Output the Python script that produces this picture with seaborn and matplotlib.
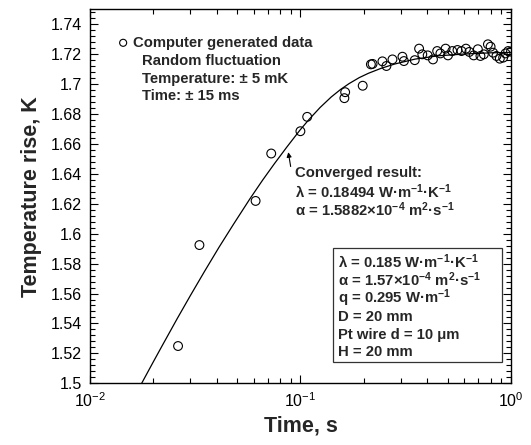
import numpy as np
import pandas as pd
import seaborn as sns
import matplotlib.pyplot as plt
from matplotlib.ticker import MultipleLocator, FormatStrFormatter, LogLocator, NullFormatter
from matplotlib.patches import Rectangle

# Data
time_s = [0.0262, 0.0331, 0.0612, 0.0726, 0.0999, 0.1076, 0.1616, 0.163, 0.1975,
          0.216, 0.22, 0.245, 0.256, 0.2735, 0.305, 0.31, 0.349, 0.366, 0.379,
          0.402, 0.426, 0.446, 0.462, 0.489, 0.502, 0.526, 0.557, 0.582, 0.611,
          0.634, 0.665, 0.696, 0.716, 0.743, 0.777, 0.80, 0.822, 0.853, 0.885,
          0.918, 0.942, 0.970, 1.0]
temp_rise = [1.5249, 1.5924, 1.6219, 1.6536, 1.6685, 1.6781, 1.6906, 1.6946, 1.6989,
             1.7132, 1.7135, 1.7152, 1.7121, 1.7165, 1.7183, 1.7154, 1.7160, 1.7237, 1.7199,
             1.7192, 1.7165, 1.7221, 1.7205, 1.7237, 1.7192, 1.7221, 1.7228, 1.7221, 1.7237,
             1.7215, 1.7192, 1.7233, 1.7188, 1.7199, 1.7266, 1.7250, 1.7210, 1.7188, 1.7170,
             1.7177, 1.7205, 1.7221, 1.7217]

# converged fit curve
fit_t = [0.0176, 0.02, 0.022, 0.026, 0.03, 0.035, 0.041, 0.048, 0.0575, 0.066,
         0.075, 0.086, 0.0995, 0.11, 0.124, 0.14, 0.155, 0.17, 0.19, 0.21,
         0.24, 0.28, 0.35, 0.45, 0.6, 0.8, 1.0]
fit_y = [1.5, 1.5144, 1.525, 1.5434, 1.5587, 1.5748, 1.5909, 1.6062, 1.6233, 1.6357,
         1.6466, 1.6578, 1.6693, 1.6765, 1.6844, 1.6914, 1.6964, 1.7003, 1.7043, 1.7072,
         1.7104, 1.7134, 1.7167, 1.7189, 1.7201, 1.7209, 1.7212]

points = pd.DataFrame({'Time': time_s, 'Rise': temp_rise})
fit = pd.DataFrame({'Time': fit_t, 'Rise': fit_y})

sns.set_style('ticks')
plt.rcParams['font.family'] = ['Liberation Sans', 'DejaVu Sans']
plt.rcParams['mathtext.default'] = 'regular'

fig = plt.figure(figsize=(5.31, 4.45), dpi=100)
ax = fig.add_axes([0.1695, 0.1387, 0.7928, 0.8404])

sns.lineplot(data=fit, x='Time', y='Rise', color='black', linewidth=0.9,
             estimator=None, sort=False, ax=ax)
sns.scatterplot(data=points, x='Time', y='Rise', marker='o', s=40,
                facecolors='none', edgecolor='black', linewidth=0.8,
                label='Computer generated data', ax=ax, zorder=3)

ax.set_xscale('log')
ax.set_xlim(0.01, 1)
ax.set_ylim(1.5, 1.75)
ax.xaxis.set_major_locator(LogLocator(base=10, numticks=5))
ax.xaxis.set_minor_locator(LogLocator(base=10, subs=np.arange(2, 10), numticks=20))
ax.xaxis.set_minor_formatter(NullFormatter())
ax.yaxis.set_minor_locator(MultipleLocator(0.004))
ax.set_yticks([v / 100 for v in range(150, 175, 2)])
ax.yaxis.set_major_formatter(FormatStrFormatter('%g'))

ax.tick_params(which='both', direction='in', top=True, right=True, width=0.8, colors='black')
ax.tick_params(which='major', length=6, labelsize=11.5, pad=6)
ax.tick_params(which='minor', length=3.5)
for sp in ax.spines.values():
    sp.set_linewidth(1.0)
    sp.set_color('black')

ax.set_xlabel('Time, s', fontsize=15.5, fontweight='bold', labelpad=4)
ax.set_ylabel('Temperature rise, K', fontsize=15.5, fontweight='bold', labelpad=6)


def frac(px, py):
    return ((px - 90) / 421, (383.3 - py) / 374)


leg = ax.legend(loc='center left', bbox_to_anchor=frac(117.2, 42.7), frameon=False,
                handlelength=0.8, handletextpad=0.25, borderpad=0, borderaxespad=0,
                markerscale=0.8, prop={'weight': 'bold', 'size': 10.7})

txt = dict(transform=ax.transAxes, fontsize=10.7, fontweight='bold', va='center', ha='left')
for line, py in [('Random fluctuation', 60.7), ('Temperature: ± 5 mK', 78.7), ('Time: ± 15 ms', 96)]:
    ax.text(*frac(141.7, py), line, **txt)

conv = ['Converged result:',
        'λ = 0.18494 W·m$^{-1}$·K$^{-1}$',
        'α = 1.5882×10$^{-4}$ m$^{2}$·s$^{-1}$']
for line, py in zip(conv, [172.7, 191.7, 210]):
    ax.text(*frac(295, py), line, **txt)

ax.annotate('', xy=(0.0875, 1.6545), xytext=(0.0898, 1.6449),
            arrowprops=dict(arrowstyle='-|>', color='black', lw=0.8,
                            mutation_scale=7, shrinkA=0, shrinkB=0))

x0, y0 = frac(333.3, 361.7)
x1, y1 = frac(501.7, 248.3)
ax.add_patch(Rectangle((x0, y0), x1 - x0, y1 - y0, transform=ax.transAxes,
                       fill=False, edgecolor='#333333', linewidth=0.9))
params = ['λ = 0.185 W·m$^{-1}$·K$^{-1}$',
          'α = 1.57×10$^{-4}$ m$^{2}$·s$^{-1}$',
          'q = 0.295 W·m$^{-1}$',
          'D = 20 mm',
          'Pt wire d = 10 μm',
          'H = 20 mm']
for line, py in zip(params, [261.7, 280, 298.3, 316.7, 335, 351.7]):
    ax.text(*frac(338.3, py), line, **txt)

plt.savefig('out.png', dpi=100)
